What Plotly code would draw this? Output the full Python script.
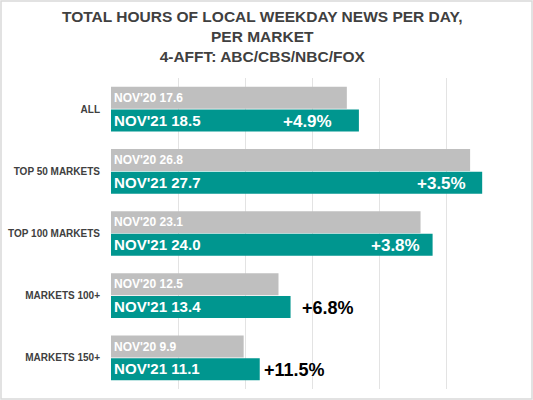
import plotly.graph_objects as go

markets = ["ALL", "TOP 50 MARKETS", "TOP 100 MARKETS", "MARKETS 100+", "MARKETS 150+"]
nov20 = [17.6, 26.8, 23.1, 12.5, 9.9]
nov21 = [18.5, 27.7, 24.0, 13.4, 11.1]
change = ["+4.9%", "+3.5%", "+3.8%", "+6.8%", "+11.5%"]
label_inside = [True, True, True, False, False]

W, H = 533, 400
L, R, T, B = 111, 20, 78, 11
grey = "#BFBFBF"
teal = "#00968F"
dark = "#404040"
font = "Liberation Sans"
pct_pad = [25, 14, 11, 9, 2]  # gap between bar end and the % label, px

fig = go.Figure()
fig.add_trace(go.Bar(
	y=markets, x=nov20, orientation="h",
	marker=dict(color=grey, line=dict(width=0)),
	text=["NOV'20 %.1f" % v for v in nov20],
	textposition="inside", insidetextanchor="start", textangle=0,
	insidetextfont=dict(family=font, size=12, color="white", weight="bold"),
	hoverinfo="skip"))
fig.add_trace(go.Bar(
	y=markets, x=nov21, orientation="h",
	marker=dict(color=teal, line=dict(width=0)),
	text=["NOV'21 %.1f" % v for v in nov21],
	textposition="inside", insidetextanchor="start", textangle=0,
	insidetextfont=dict(family=font, size=16, color="white", weight="bold"),
	hoverinfo="skip"))

# percent change labels, inside the bar end or just past it
for m, v, c, inside, pad in zip(markets, nov21, change, label_inside, pct_pad):
	fig.add_annotation(
		x=v, y=m, text="<b>%s</b>" % c, showarrow=False,
		xanchor="right" if inside else "left",
		xshift=-pad if inside else pad, yshift=-12,
		font=dict(family=font, size=17 if inside else 18,
			color="white" if inside else "black"))

title = ("<b>TOTAL HOURS OF LOCAL WEEKDAY NEWS PER DAY,</b><br>"
	"<b>PER MARKET</b><br><b>4-AFFT: ABC/CBS/NBC/FOX</b>")
fig.add_annotation(
	xref="paper", yref="paper", x=(262 - L) / (W - L - R), y=1 + (T - 6) / (H - T - B),
	xanchor="center", yanchor="top", text=title, showarrow=False, align="center",
	font=dict(family=font, size=15.5, color=dark))

# thin light frame around the whole picture
pw, ph = W - L - R, H - T - B
fig.add_shape(type="rect", xref="paper", yref="paper",
	x0=(1 - L) / pw, x1=(W - 1 - L) / pw, y0=-(B - 1) / ph, y1=1 + (T - 1) / ph,
	line=dict(color="#D9D9D9", width=1.5), fillcolor="rgba(0,0,0,0)", layer="below")

fig.update_layout(
	width=W, height=H, margin=dict(l=L, r=R, t=T, b=B),
	barmode="group", bargap=0.27, bargroupgap=0.03,
	showlegend=False, plot_bgcolor="white", paper_bgcolor="white",
	xaxis=dict(range=[0, 30], dtick=5, showticklabels=False, showgrid=True,
		gridcolor="#E3E3E3", gridwidth=1, zeroline=False, fixedrange=True,
		automargin=False),
	yaxis=dict(autorange="reversed", categoryorder="array", categoryarray=markets,
		ticks="", ticklabelstandoff=10, automargin=False, fixedrange=True,
		tickfont=dict(family=font, size=10, color=dark, weight="bold")),
	uniformtext=dict(mode=False))

# page body has a default 8px margin; drop it so the figure fills the window
fig.write_html("out.html", config={"displayModeBar": False},
	post_script="document.body.style.margin='0px';")
